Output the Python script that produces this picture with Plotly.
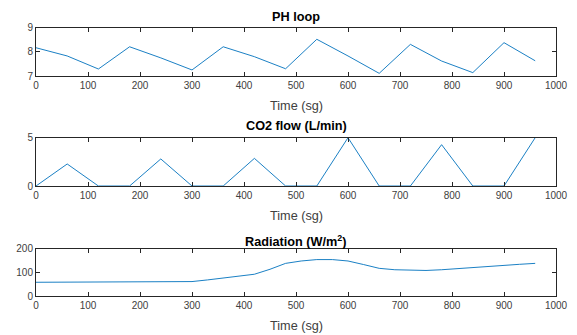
import plotly.graph_objects as go

# Sample times (s)
time_s = [0, 60, 120, 180, 240, 300, 360, 420, 480, 540, 600, 660, 720, 780, 840, 900, 960]

# pH of the loop
ph_loop = [8.17, 7.83, 7.29, 8.21, 7.75, 7.25, 8.21, 7.8, 7.3, 8.52, 7.83, 7.11, 8.31, 7.62, 7.14, 8.38, 7.63]

# CO2 injection flow (L/min)
co2_flow = [0, 2.28, 0, 0, 2.8, 0, 0, 2.86, 0, 0, 5, 0, 0, 4.28, 0, 0, 5]

# Solar radiation, finer sampling (W/m^2)
rad_time_s = [0, 30, 60, 90, 120, 150, 180, 210, 240, 270, 300, 330, 360, 390, 420,
              450, 480, 510, 540, 570, 600, 630, 660, 690, 720, 750, 780, 810, 840,
              870, 900, 930, 960]
radiation = [58, 58, 58, 58, 58, 58, 58, 58, 58, 58, 61, 68, 75, 83, 92,
             113, 138, 148, 154, 154, 148, 133, 117, 111, 108, 108, 111, 116, 122,
             127, 131, 134, 138]

titles = ["<b>PH loop</b>", "<b>CO2 flow (L/min)</b>", "<b>Radiation (W/m<sup>2</sup>)</b>"]
y_ranges = [[7, 9], [0, 5], [0, 200]]
y_ticks = [[7, 8, 9], [0, 5], [0, 100, 200]]
x_ticks = [0, 100, 200, 300, 400, 500, 600, 700, 800, 900, 1000]

W, H = 577, 335
x_dom = [36 / W, 556 / W]
y_px = [(27.7, 76), (137.7, 186), (248.7, 296)]   # top/bottom of each panel, px
title_mid_px = [16.8, 125.6, 240.5]               # vertical centre of each title, px
y_doms = [[1 - b / H, 1 - t / H] for t, b in y_px]

LINE = "#0072BD"
AX = "#262626"
TXT = "#404040"
FONT = "Liberation Sans, Arial, Helvetica, sans-serif"

fig = go.Figure()
series = [(time_s, ph_loop), (time_s, co2_flow), (rad_time_s, radiation)]
for i, (xs, ys) in enumerate(series):
    k = "" if i == 0 else str(i + 1)
    fig.add_trace(go.Scatter(x=xs, y=ys, mode="lines",
                             line=dict(color=LINE, width=0.9),
                             xaxis="x" + k, yaxis="y" + k, showlegend=False))
    axis_common = dict(showline=True, linecolor=AX, linewidth=1, mirror="ticks",
                       ticks="inside", ticklen=4, tickcolor=AX, tickwidth=1,
                       showgrid=False, zeroline=False, automargin=False,
                       tickfont=dict(family=FONT, size=10, color=TXT))
    fig.update_layout(**{
        "xaxis" + k: dict(domain=x_dom, range=[0, 1000], tickvals=x_ticks,
                          anchor="y" + k, **axis_common),
        "yaxis" + k: dict(domain=y_doms[i], range=y_ranges[i], tickvals=y_ticks[i],
                          anchor="x" + k, **axis_common),
    })
    fig.add_annotation(text=titles[i], xref="x" + k + " domain", yref="paper",
                       x=0.5, y=1 - title_mid_px[i] / H, xanchor="center", yanchor="middle",
                       showarrow=False, font=dict(family=FONT, size=12.7, color="black"))
    fig.add_annotation(text="Time (sg)", xref="x" + k + " domain", yref="paper",
                       x=0.5, y=1 - (y_px[i][1] + 30) / H, xanchor="center", yanchor="middle",
                       showarrow=False, font=dict(family=FONT, size=12.7, color=TXT))

fig.update_layout(width=W, height=H,
                  margin=dict(l=0, r=0, t=0, b=0, pad=0, autoexpand=False),
                  paper_bgcolor="white", plot_bgcolor="white",
                  font=dict(family=FONT))

fig.write_html("out.html")
